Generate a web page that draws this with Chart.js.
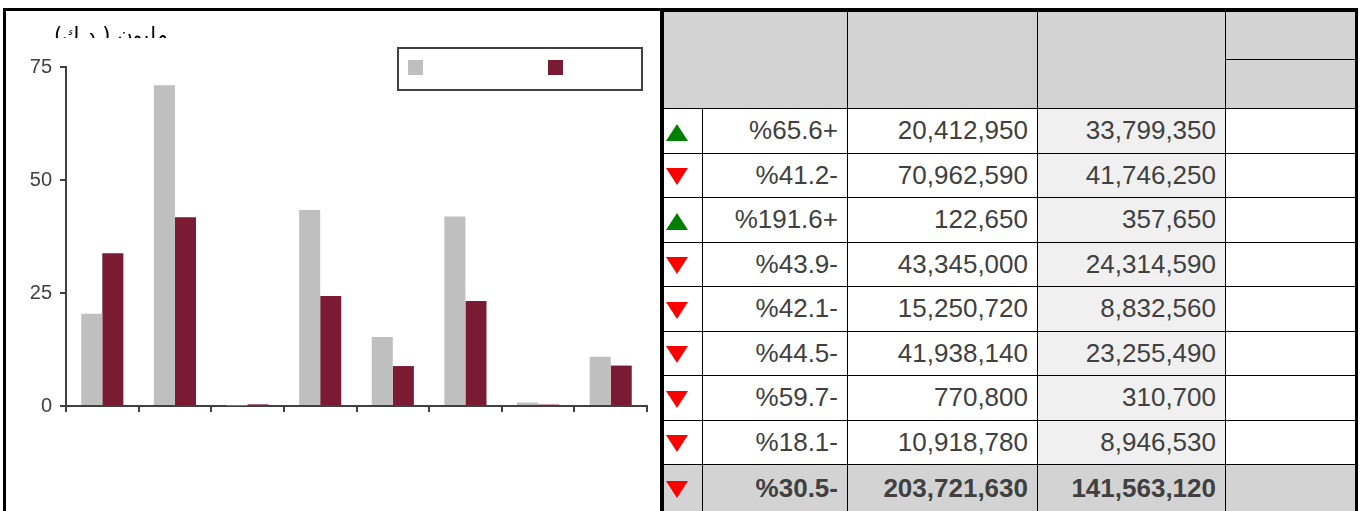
<!DOCTYPE html>
<html>
<head>
<meta charset="utf-8">
<script src="https://cdn.jsdelivr.net/npm/chart.js@4"></script>
<style>
  html, body { margin: 0; padding: 0; background: #fff; }
  body { width: 1362px; height: 511px; position: relative; overflow: hidden; font-family: "Liberation Sans", Arial, sans-serif; }
  #frame { position: absolute; left: 3px; top: 8px; width: 1349px; height: 520px; border: 3px solid #000; border-bottom: none; }
  #divider { position: absolute; left: 660px; top: 8px; width: 3px; height: 520px; background: #000; }
  #chartBox { position: absolute; left: 0; top: 0; width: 660px; height: 511px; }
  #unit { position: absolute; left: 30px; top: 20px; width: 138px; height: 18px; overflow: hidden; direction: rtl; text-align: right;
          font: 21px "DejaVu Sans", sans-serif; line-height: 31px; color: #000; }
  #legend { position: absolute; left: 397px; top: 47px; width: 242px; height: 40px; border: 2px solid #404040; }
  .sw { position: absolute; top: 11px; width: 15px; height: 15px; }
  #tbl { position: absolute; left: 663px; top: 11px; width: 692px; border-collapse: collapse; table-layout: fixed; }
  #tbl td { border: 1px solid #000; padding: 0 9px 0 0; text-align: right; font-size: 26px; color: #404040; white-space: nowrap; }
  #tbl tr.head td { background: #d3d3d3; }
  #tbl td.cur { background: #f0f0f0; }
  #tbl tr.total td { background: #d3d3d3; font-weight: bold; }
  #tbl td.arrow { padding: 0; text-align: left; }
  .up { display: inline-block; width: 0; height: 0; margin-left: 2px; border-left: 11px solid transparent; border-right: 11px solid transparent; border-bottom: 17px solid #008000; vertical-align: middle; }
  .down { display: inline-block; width: 0; height: 0; margin-left: 2px; border-left: 11px solid transparent; border-right: 11px solid transparent; border-top: 17px solid #ff0000; vertical-align: middle; }
</style>
</head>
<body>
<div id="chartBox"><canvas id="barChart" width="660" height="511"></canvas></div>
<div id="unit">مليون ( د.ك)</div>
<div id="legend">
  <div class="sw" style="left:9px;background:#bfbfbf"></div>
  <div class="sw" style="left:149px;background:#7a1a33"></div>
</div>
<table id="tbl">
  <colgroup><col style="width:39px"><col style="width:145px"><col style="width:190px"><col style="width:188px"><col style="width:130px"></colgroup>
  <tbody id="tbody">
    <tr class="head" style="height:48px"><td colspan="2" rowspan="2"></td><td rowspan="2"></td><td rowspan="2"></td><td></td></tr>
    <tr class="head" style="height:49px"><td></td></tr>
  </tbody>
</table>
<div id="divider"></div>
<div id="frame"></div>

<script>
const categories = ["1", "2", "3", "4", "5", "6", "7", "8"];
const prevValues = [20412950, 70962590, 122650, 43345000, 15250720, 41938140, 770800, 10918780];
const currValues = [33799350, 41746250, 357650, 24314590, 8832560, 23255490, 310700, 8946530];
const changeText = ["%65.6+", "%41.2-", "%191.6+", "%43.9-", "%42.1-", "%44.5-", "%59.7-", "%18.1-"];
const trend = ["up", "down", "up", "down", "down", "down", "down", "down"];
const totalPrev = 203721630;
const totalCurr = 141563120;
const totalChange = "%30.5-";
const totalTrend = "down";
const yTicks = [0, 25, 50, 75];

const fmt = n => n.toLocaleString("en-US");

// table rows
const tbody = document.getElementById("tbody");
categories.forEach((c, i) => {
  const tr = document.createElement("tr");
  tr.style.height = "44.5px";
  tr.innerHTML = `<td class="arrow"><span class="${trend[i]}"></span></td><td>${changeText[i]}</td><td>${fmt(prevValues[i])}</td><td class="cur">${fmt(currValues[i])}</td><td></td>`;
  tbody.appendChild(tr);
});
const tot = document.createElement("tr");
tot.className = "total";
tot.style.height = "47px";
tot.innerHTML = `<td class="arrow"><span class="${totalTrend}"></span></td><td>${totalChange}</td><td>${fmt(totalPrev)}</td><td>${fmt(totalCurr)}</td><td></td>`;
tbody.appendChild(tot);

// chart (values in millions)
const axisColor = "#404040";
new Chart(document.getElementById("barChart"), {
  type: "bar",
  data: {
    labels: categories,
    datasets: [
      { label: "prev", data: prevValues.map(v => v / 1e6), backgroundColor: "#bfbfbf" },
      { label: "curr", data: currValues.map(v => v / 1e6), backgroundColor: "#7a1a33" },
    ],
  },
  options: {
    responsive: false,
    animation: false,
    events: [],
    datasets: { bar: { categoryPercentage: 0.58, barPercentage: 1.0 } },
    layout: { padding: { top: 67, right: 13, left: 0, bottom: 0 } },
    plugins: { legend: { display: false }, tooltip: { enabled: false } },
    scales: {
      x: {
        grid: { offset: true, drawOnChartArea: false, drawTicks: true, tickLength: 6, color: axisColor, lineWidth: 2 },
        border: { color: axisColor, width: 2 },
        ticks: { display: false },
        afterFit: s => { s.height = 105; },
      },
      y: {
        min: 0,
        max: 75,
        afterBuildTicks: s => { s.ticks = yTicks.map(v => ({ value: v })); },
        grid: { drawOnChartArea: false, drawTicks: true, tickLength: 6, color: axisColor, lineWidth: 2 },
        border: { color: axisColor, width: 2 },
        ticks: { color: axisColor, padding: 8, font: { family: "Liberation Sans", size: 20 } },
        afterFit: s => { s.width = 66; },
      },
    },
  },
});
</script>
</body>
</html>
